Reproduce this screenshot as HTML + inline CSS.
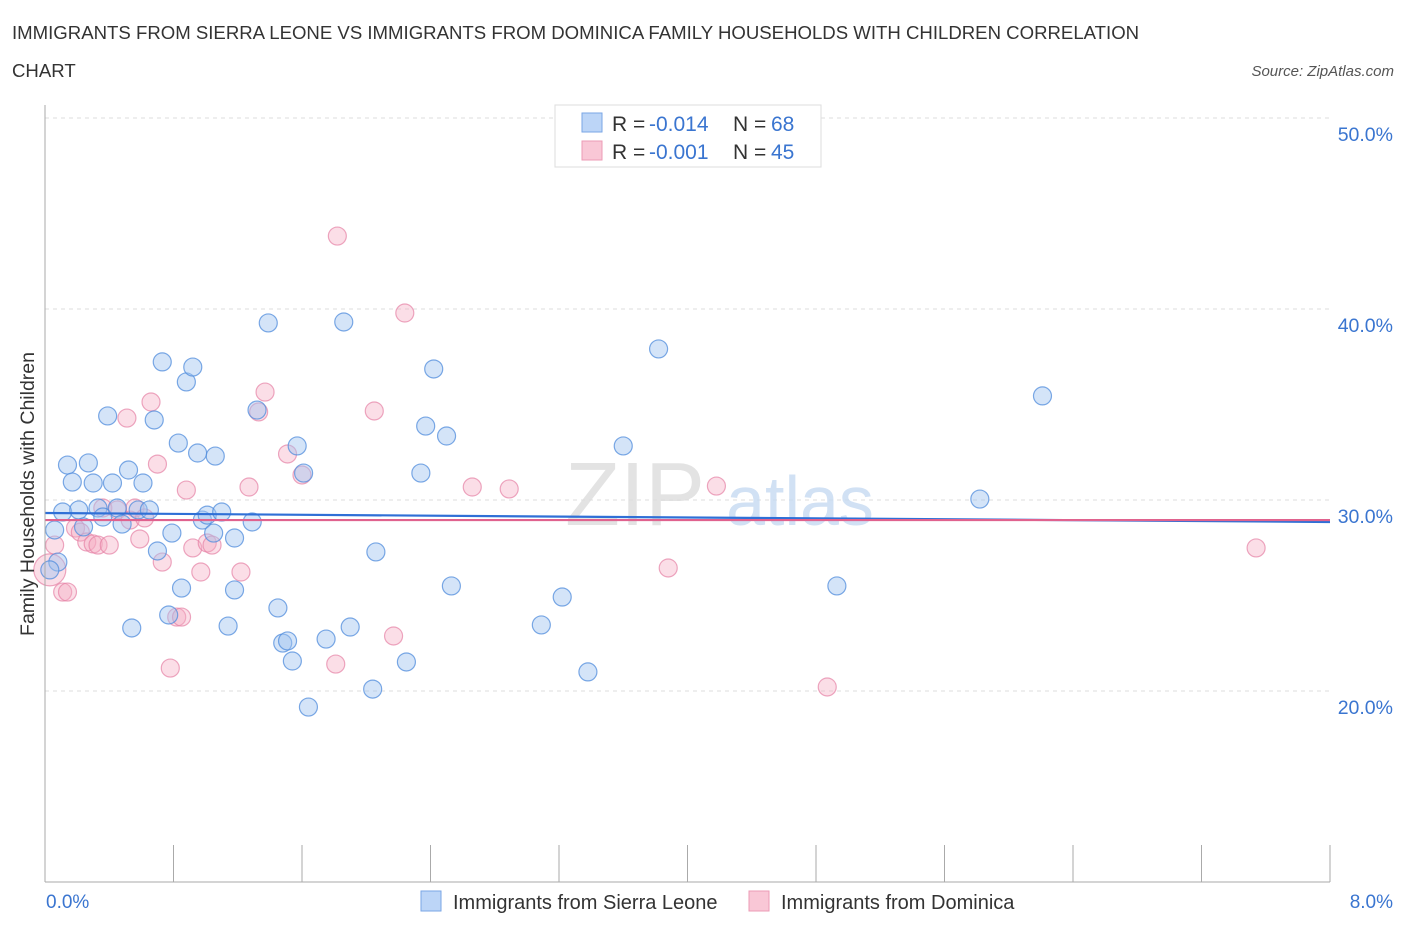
<!DOCTYPE html>
<html><head><meta charset="utf-8"><style>
body{margin:0;background:#fff;font-family:"Liberation Sans",sans-serif;}
svg text{font-family:"Liberation Sans",sans-serif;}
</style></head><body>
<svg width="1406" height="930" xmlns="http://www.w3.org/2000/svg">
<text x="12" y="39" font-size="18.6" fill="#333">IMMIGRANTS FROM SIERRA LEONE VS IMMIGRANTS FROM DOMINICA FAMILY HOUSEHOLDS WITH CHILDREN CORRELATION</text>
<text x="12" y="77" font-size="18.6" fill="#333">CHART</text>
<text x="1394" y="76" font-size="15" fill="#555" font-style="italic" text-anchor="end">Source: ZipAtlas.com</text>
<g id="grid"></g>
<g><text x="635" y="525" font-size="90" fill="#ddd" font-family="Liberation Serif" text-anchor="middle" opacity="0.8">ZIP</text><text x="800" y="525" font-size="70" fill="#c6daf2" text-anchor="middle" opacity="0.8">atlas</text></g>
<g id="points"></g>
<g id="trends"></g>
<line x1="45" y1="105" x2="45" y2="882" stroke="#aaa"/>
<line x1="45" y1="882" x2="1330" y2="882" stroke="#aaa"/>
<text x="28" y="494" font-size="19.5" fill="#333" text-anchor="middle" transform="rotate(-90 28 494)" dy="6">Family Households with Children</text>
<text x="46" y="908" font-size="19" fill="#3a75d0">0.0%</text>
<text x="1393" y="908" font-size="19" fill="#3a75d0" text-anchor="end">8.0%</text>
<g>
<rect x="555" y="105" width="266" height="62" fill="#fff" stroke="#ddd"/>
<rect x="582" y="113" width="20" height="19" fill="#bcd5f7" stroke="#7aa6e6"/>
<rect x="582" y="141" width="20" height="19" fill="#f9c7d6" stroke="#ec9bb6"/>
<text x="612" y="131" font-size="21" fill="#333">R =</text>
<text x="649" y="131" font-size="21" fill="#3a75d0">-0.014</text>
<text x="733" y="131" font-size="21" fill="#333">N =</text>
<text x="771" y="131" font-size="21" fill="#3a75d0">68</text>
<text x="612" y="159" font-size="21" fill="#333">R =</text>
<text x="649" y="159" font-size="21" fill="#3a75d0">-0.001</text>
<text x="733" y="159" font-size="21" fill="#333">N =</text>
<text x="771" y="159" font-size="21" fill="#3a75d0">45</text>
</g>
<g>
<rect x="421" y="891" width="20" height="20" fill="#bcd5f7" stroke="#7aa6e6"/>
<text x="453" y="909" font-size="20" fill="#333">Immigrants from Sierra Leone</text>
<rect x="749" y="891" width="20" height="20" fill="#f9c7d6" stroke="#ec9bb6"/>
<text x="781" y="909" font-size="20" fill="#333">Immigrants from Dominica</text>
</g>
</svg>
<script>
const blueX=[0.06,0.08,0.03,0.11,0.14,0.17,0.21,0.24,0.27,0.30,0.33,0.36,0.39,0.42,0.45,0.48,0.52,0.54,0.58,0.61,0.65,0.68,0.70,0.73,0.77,0.79,0.83,0.85,0.88,0.92,0.95,0.98,1.01,1.05,1.06,1.10,1.14,1.18,1.18,1.29,1.32,1.39,1.45,1.48,1.51,1.54,1.57,1.61,1.64,1.75,1.86,1.90,2.04,2.06,2.25,2.34,2.37,2.42,2.50,2.53,3.09,3.22,3.38,3.60,3.82,4.93,5.82,6.21];
const blueY=[28.43,26.75,26.34,29.37,31.83,30.94,29.48,28.59,31.94,30.89,29.58,29.11,34.40,30.89,29.58,28.74,31.57,23.30,29.48,30.89,29.48,34.19,27.33,37.23,23.98,28.27,32.98,25.39,36.18,36.96,32.46,28.95,29.21,28.27,32.30,29.37,23.40,28.01,25.29,28.85,34.71,39.27,24.35,22.51,22.62,21.57,32.83,31.41,19.16,22.72,39.32,23.35,20.10,27.28,21.52,31.41,33.87,36.86,33.35,25.50,23.46,24.92,21.00,32.83,37.91,25.50,30.05,35.45];
const pinkX=[0.03,0.06,0.11,0.14,0.19,0.22,0.26,0.30,0.33,0.36,0.40,0.45,0.51,0.53,0.56,0.59,0.62,0.66,0.70,0.73,0.78,0.82,0.85,0.88,0.92,0.97,1.01,1.04,1.22,1.27,1.33,1.37,1.51,1.60,1.81,1.82,2.05,2.17,2.24,2.66,2.89,3.88,4.18,4.87,7.54];
const pinkY=[26.34,27.64,25.18,25.18,28.53,28.32,27.80,27.70,27.64,29.58,27.64,29.48,34.29,28.95,29.58,27.96,29.06,35.13,31.88,26.75,21.20,23.87,23.87,30.52,27.49,26.23,27.75,27.64,26.23,30.68,34.61,35.65,32.41,31.31,21.41,43.82,34.66,22.88,39.79,30.68,30.58,26.44,30.73,20.21,27.49];
const trendBlue=[29.32,28.85];
const trendPink=[28.95,28.95];
const yTicks=[20,30,40,50];
const yTickLabels=["20.0%","30.0%","40.0%","50.0%"];
const xTicks=[0,0.8,1.6,2.4,3.2,4.0,4.8,5.6,6.4,7.2,8];
const NS="http://www.w3.org/2000/svg";
function sx(v){return 45+v*1285/8;}
function sy(v){return 500-(v-30)*19.1;}
const grid=document.getElementById('grid');
yTicks.forEach((t,i)=>{
 const l=document.createElementNS(NS,'line');
 l.setAttribute('x1',45);l.setAttribute('x2',1330);l.setAttribute('y1',sy(t));l.setAttribute('y2',sy(t));
 l.setAttribute('stroke','#ddd');l.setAttribute('stroke-dasharray','4,4');
 
 
 grid.appendChild(l);
 const tx=document.createElementNS(NS,'text');
 tx.setAttribute('x',1393);tx.setAttribute('y',sy(t)+23);tx.setAttribute('text-anchor','end');
 tx.setAttribute('font-size','19.5');tx.setAttribute('fill','#3a75d0');tx.textContent=yTickLabels[i];
 
 
 grid.appendChild(tx);
});
xTicks.forEach(t=>{
 const l=document.createElementNS(NS,'line');
 l.setAttribute('x1',sx(t));l.setAttribute('x2',sx(t));l.setAttribute('y1',845);l.setAttribute('y2',882);
 l.setAttribute('stroke','#aaa');
 
 
 grid.appendChild(l);
});
const pts=document.getElementById('points');
function dot(x,y,r,fill,stroke,name){
 const c=document.createElementNS(NS,'circle');
 c.setAttribute('cx',sx(x));c.setAttribute('cy',sy(y));c.setAttribute('r',r);
 c.setAttribute('fill',fill);c.setAttribute('stroke',stroke);c.setAttribute('stroke-width','1.2');
 
 
 pts.appendChild(c);
}
pinkX.forEach((x,i)=>dot(x,pinkY[i],i===0?16:9,'rgba(246,172,196,0.4)','rgba(230,130,165,0.7)','point-dominica'));
blueX.forEach((x,i)=>dot(x,blueY[i],9,'rgba(160,196,240,0.45)','rgba(80,140,220,0.75)','point-sierra-leone'));
const tr=document.getElementById('trends');
[[trendBlue,'#2f6fd6','trend-sierra-leone'],[trendPink,'#e0628e','trend-dominica']].forEach(([t,c,n])=>{
 const l=document.createElementNS(NS,'line');
 l.setAttribute('x1',sx(0));l.setAttribute('x2',sx(8));l.setAttribute('y1',sy(t[0]));l.setAttribute('y2',sy(t[1]));
 l.setAttribute('stroke',c);l.setAttribute('stroke-width','2.2');
 
 
 tr.appendChild(l);
});
</script>
</body></html>
